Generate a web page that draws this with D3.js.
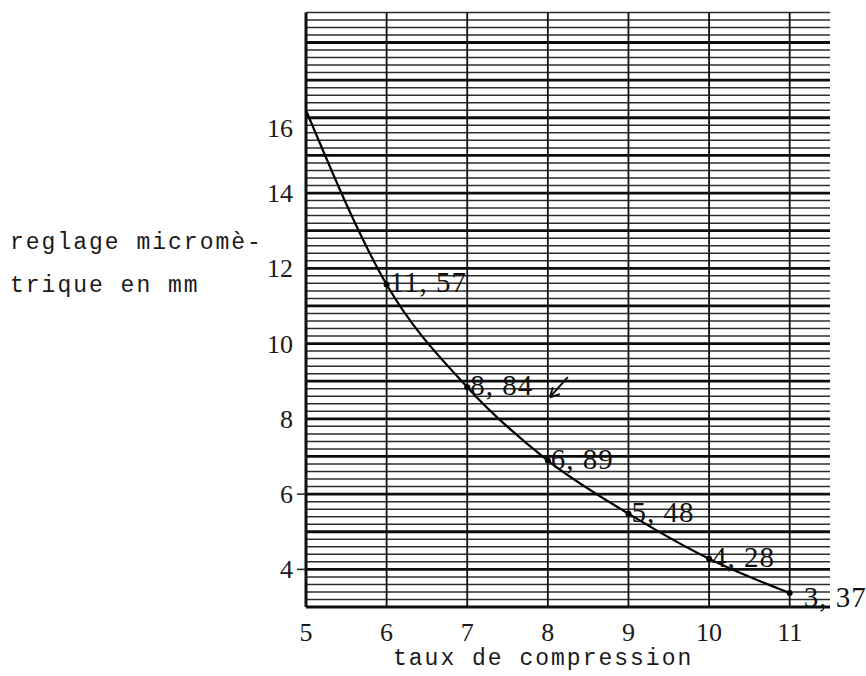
<!DOCTYPE html>
<html>
<head>
<meta charset="utf-8">
<script src="https://cdn.jsdelivr.net/npm/d3@7"></script>
<style>
  html, body { margin: 0; padding: 0; background: #fff; }
  svg { display: block; }
  .tick-label { font-family: "Liberation Serif", serif; font-size: 26px; fill: #1a1a1a; }
  .value-label { font-family: "Liberation Serif", serif; font-size: 29px; fill: #111; letter-spacing: 1px; }
  .title { font-family: "Liberation Mono", monospace; font-size: 23px; fill: #1a1a1a; letter-spacing: 2px; }
</style>
</head>
<body>
<svg id="chart" width="866" height="676"></svg>
<script>
// compression ratio vs micrometer setting (mm), as labelled on the sheet
const ratios = [6, 7, 8, 9, 10, 11];
const settings = [11.57, 8.84, 6.89, 5.48, 4.28, 3.37];
const valueLabels = ['11, 57', '8, 84', '6, 89', '5, 48', '4, 28', '3, 37'];

// where the drawn curve starts at the left edge
const curveStart = [5, 16.2];

const xTicks = [5, 6, 7, 8, 9, 10, 11];
const yTicks = [4, 6, 8, 10, 12, 14, 16];

const svg = d3.select('#chart');

const x = d3.scaleLinear().domain([5, 11.5]).range([306, 830]);
const y = d3.scaleLinear().domain([3, 18.8]).range([607, 12.4]);

// ── graph paper ──────────────────────────────────
const grid = svg.append('g');

// horizontal rules every 0.2 mm, heavier every 1 mm
const minor = d3.range(0, 80).map(i => +(3 + i * 0.2).toFixed(1));
grid.selectAll('line.h')
    .data(minor)
    .join('line')
    .attr('class', 'h')
    .attr('x1', x(5))
    .attr('x2', x(11.5))
    .attr('y1', d => y(d))
    .attr('y2', d => y(d))
    .attr('stroke', d => Number.isInteger(d) ? '#0d0d0d' : '#2e2e2e')
    .attr('stroke-width', d => Number.isInteger(d) ? 2.8 : 1.5);

// vertical rules on each whole ratio
grid.selectAll('line.v')
    .data(xTicks)
    .join('line')
    .attr('class', 'v')
    .attr('x1', d => x(d))
    .attr('x2', d => x(d))
    .attr('y1', y(18.8))
    .attr('y2', y(3))
    .attr('stroke', '#111')
    .attr('stroke-width', d => d === 5 ? 3 : 1.8);

// short ticks left of the axis
grid.selectAll('line.t')
    .data(yTicks.filter(d => d <= 6))
    .join('line')
    .attr('class', 't')
    .attr('x1', x(5) - 9)
    .attr('x2', x(5))
    .attr('y1', d => y(d))
    .attr('y2', d => y(d))
    .attr('stroke', '#222')
    .attr('stroke-width', 1.5);

// ── axis labels ──────────────────────────────────
svg.append('g').selectAll('text')
    .data(yTicks)
    .join('text')
    .attr('class', 'tick-label')
    .attr('x', x(5) - 13)
    .attr('y', d => y(d) + (d === 16 ? 10 : 0))
    .attr('dy', '0.35em')
    .attr('text-anchor', 'end')
    .text(d => d);

svg.append('g').selectAll('text')
    .data(xTicks)
    .join('text')
    .attr('class', 'tick-label')
    .attr('x', d => x(d))
    .attr('y', 641)
    .attr('text-anchor', 'middle')
    .text(d => d);

svg.append('text')
    .attr('class', 'title')
    .attr('x', 393)
    .attr('y', 665)
    .text('taux de compression');

const yTitle = svg.append('text')
    .attr('class', 'title')
    .attr('x', 10)
    .attr('y', 249);
yTitle.append('tspan').text('reglage micromè-');
yTitle.append('tspan').attr('x', 10).attr('dy', 43).text('trique en mm');

// ── curve ────────────────────────────────────────
const pts = [curveStart].concat(ratios.map((r, i) => [r, settings[i]]));

const line = d3.line()
    .x(d => x(d[0]))
    .y(d => y(d[1]))
    .curve(d3.curveMonotoneX);

svg.append('path')
    .datum(pts)
    .attr('d', line)
    .attr('fill', 'none')
    .attr('stroke', '#000')
    .attr('stroke-width', 2.2);

svg.append('g').selectAll('circle')
    .data(ratios)
    .join('circle')
    .attr('cx', d => x(d))
    .attr('cy', (d, i) => y(settings[i]))
    .attr('r', 3)
    .attr('fill', '#000');

svg.append('g').selectAll('text')
    .data(ratios)
    .join('text')
    .attr('class', 'value-label')
    .attr('x', d => x(d) + (d === 11 ? 14 : 3))
    .attr('y', (d, i) => y(settings[i]) + (d === 11 ? 14 : 8))
    .text((d, i) => valueLabels[i]);

// little hand-drawn arrow near the 8,84 point
const ax = x(8), ay = y(9.0);
svg.append('path')
    .attr('d', `M${ax + 20},${ay - 4} L${ax + 2},${ay + 16} M${ax + 2},${ay + 16} L${ax + 5},${ay + 6} M${ax + 2},${ay + 16} L${ax + 12},${ay + 13}`)
    .attr('fill', 'none')
    .attr('stroke', '#111')
    .attr('stroke-width', 2);
</script>
</body>
</html>
